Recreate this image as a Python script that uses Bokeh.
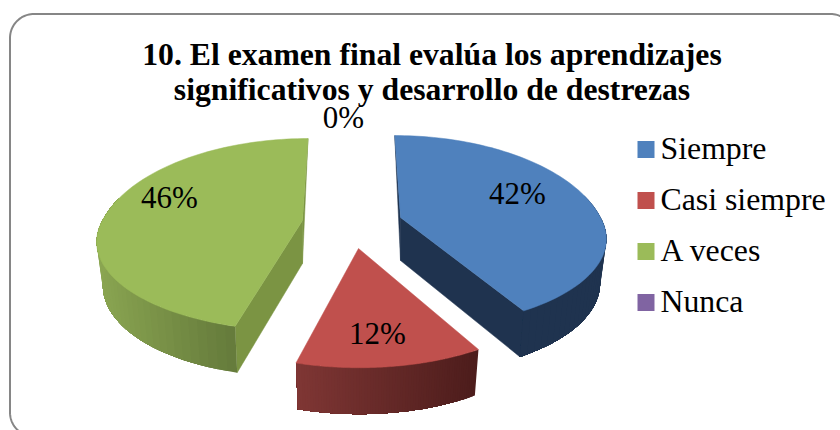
import numpy as np
from bokeh.plotting import figure
from bokeh.embed import file_html
from bokeh.resources import INLINE
from bokeh.core.properties import value

title_lines = ["10. El examen final evalúa los aprendizajes", "significativos y desarrollo de destrezas"]
categories = ["Siempre", "Casi siempre", "A veces", "Nunca"]
percents = [42, 12, 46, 0]
top_colors = ["#4f81bd", "#c0504d", "#9bbb59", "#8064a2"]

# layout (page pixels)
W, H = 840, 430
FONT = value("Liberation Serif")
apex = {"Siempre": (400, 217), "Casi siempre": (358, 248), "A veces": (302, 220)}
front_radius = {"Siempre": 86.0, "Casi siempre": 93.0, "A veces": 86.0}
label_pos = {"Siempre": (517, 193), "Casi siempre": (377, 333), "A veces": (169, 197), "Nunca": (343, 117)}
A, K, B_BACK, VPX, SKEW = 200.0, 0.22, 100.0, 350.0, 0.14
DEPTH = 43.0

p = figure(width=W, height=H, x_range=(0, W), y_range=(H, 0), output_backend="svg",
           toolbar_location=None, min_border=0, outline_line_color=None, background_fill_color="white")
p.axis.visible = False
p.grid.visible = False


def project(name, theta, bottom=False):
    cx, cy = apex[name]
    u, v = np.sin(theta), np.cos(theta)
    s = -(cx - VPX) * SKEW * np.where(v > 0, 1.0, 0.5)
    w = 1 + K * v
    x = (A * u + s * v) / w
    b = np.where(v > 0, B_BACK, front_radius[name])
    y = -b * v / w
    if bottom:
        x = x * 0.97
        y = y + DEPTH * (1 - 0.08 * v)
    return cx + x, cy + y


def mix(c1, c2, t):
    a = np.array([int(c1[i:i + 2], 16) for i in (1, 3, 5)])
    b = np.array([int(c2[i:i + 2], 16) for i in (1, 3, 5)])
    r = (a + (b - a) * t).astype(int)
    return "#%02x%02x%02x" % tuple(r)


wall_style = {
    "Siempre": ("#1f334f", "#1f334f", "#1f334f"),
    "Casi siempre": ("#803735", "#4d1d1c", "#4d1d1c"),
    "A veces": ("#8ba652", "#667c3c", "#7b9443"),
}

start = 0.0
slices = {}
for name, pct, col in zip(categories, percents, top_colors):
    t0 = start * 2 * np.pi / 100
    t1 = (start + pct) * 2 * np.pi / 100
    start += pct
    if pct > 0:
        slices[name] = (t0, t1, col)

for name in ["A veces", "Siempre", "Casi siempre"]:
    t0, t1, col = slices[name]
    cx, cy = apex[name]
    c_left, c_right, c_cut = wall_style[name]
    cbx, cby = cx, cy + DEPTH
    # cut faces
    if name != "Casi siempre":
        for t in (t0, t1):
            xt, yt = project(name, np.array([t]))
            xb, yb = project(name, np.array([t]), bottom=True)
            if np.cos(t) > 0.9:
                xs, ys = [xt[0], cbx, cx], [yt[0], cby, cy]
            else:
                xs, ys = [cx, xt[0], xb[0], cbx], [cy, yt[0], yb[0], cby]
            p.patch(xs, ys, fill_color=c_cut, line_color=c_cut, line_width=0.5)
    # curved outer wall, in overlapping strips painted along the arc
    th = np.linspace(t0, t1, 70)
    th = th[np.cos(th) <= 0.25]
    xt, yt = project(name, th)
    xb, yb = project(name, th, bottom=True)
    fx0, fx1 = xt.min(), xt.max()
    qx, qy, cols = [], [], []
    for i in range(len(th) - 1):
        qx.append([*xt[i:], *xb[i:][::-1]])
        qy.append([*yt[i:], *yb[i:][::-1]])
        f = (xt[i] - fx0) / max(fx1 - fx0, 1)
        cols.append(mix(c_left, c_right, float(f)))
    p.patches(qx, qy, fill_color=cols, line_color=None)
    # top surface
    xt, yt = project(name, np.linspace(t0, t1, 90))
    p.patch([cx, *xt], [cy, *yt], fill_color=col, line_color=col, line_width=0.5)

# rounded frame
r, L, T, R, Bm = 24, 9.5, 13.5, 854, 436
ang = np.linspace(0, np.pi / 2, 24)
fx = np.r_[L + r - r * np.cos(ang), R - r + r * np.sin(ang), R - r + r * np.cos(ang), L + r - r * np.sin(ang)]
fy = np.r_[T + r - r * np.sin(ang), T + r - r * np.cos(ang), Bm - r + r * np.sin(ang), Bm - r + r * np.cos(ang)]
p.patch(fx, fy, fill_color=None, line_color="#868686", line_width=2)

# title
p.text([431.5, 431.5], [54, 89], text=title_lines, text_font=FONT, text_font_style="bold",
       text_font_size="31.7px", text_align="center", text_baseline="middle", text_color="black")

# data labels
p.text([label_pos[c][0] for c in categories], [label_pos[c][1] for c in categories],
       text=[f"{v}%" for v in percents], text_font=FONT, text_font_size="31px",
       text_align="center", text_baseline="middle", text_color="black")

# legend
rows = [149 + 51 * i for i in range(len(categories))]
p.rect([645.5] * 4, rows, width=17, height=17, fill_color=top_colors, line_color=None)
p.text([660] * 4, [y - 1 for y in rows], text=categories, text_font=FONT, text_font_size="31.8px",
       text_align="left", text_baseline="middle", text_color="black")

open("out.html", "w").write(file_html(p, INLINE))
